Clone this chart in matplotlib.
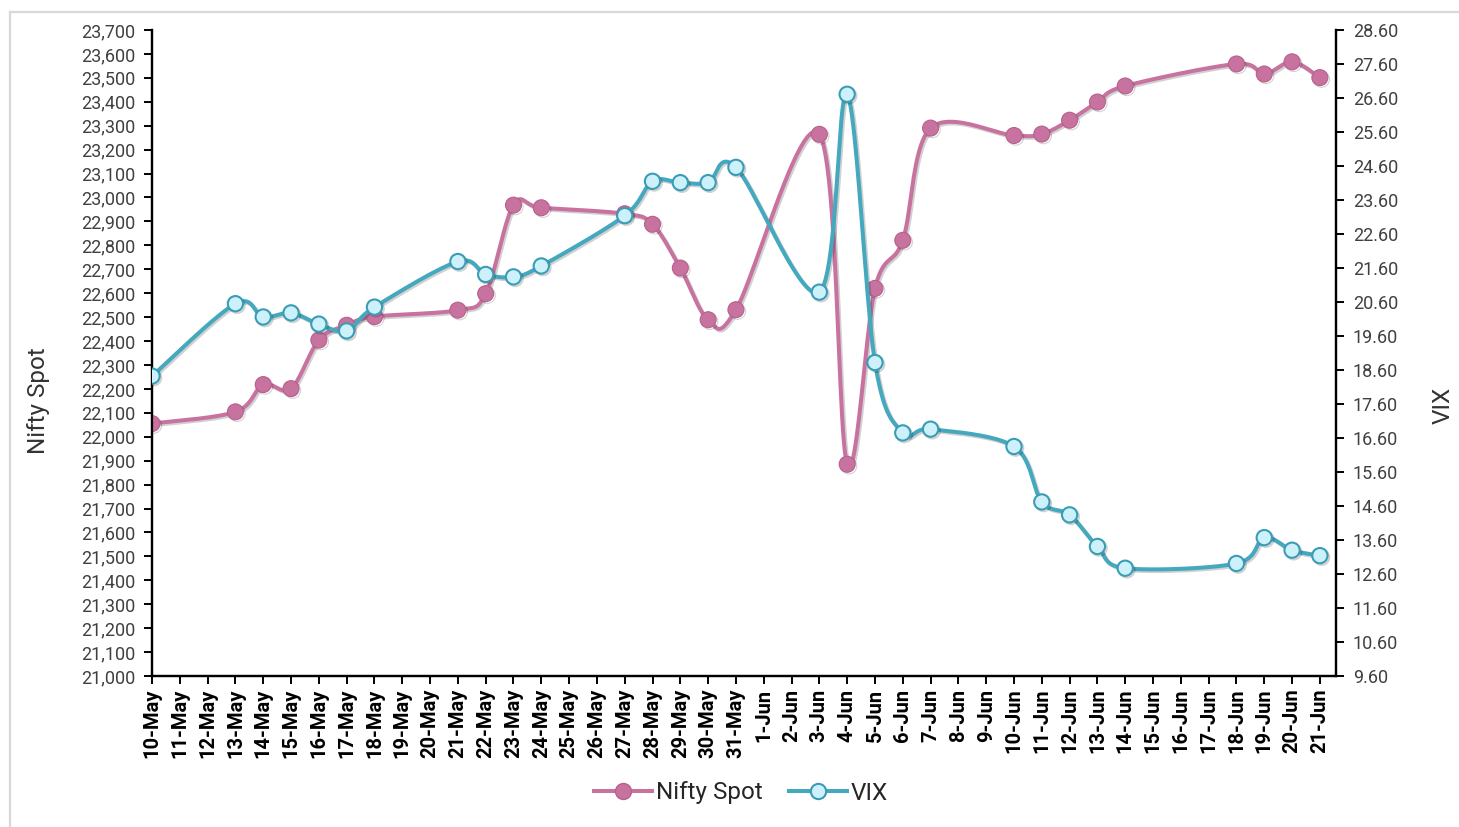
import numpy as np
import pandas as pd
import matplotlib
matplotlib.use("Agg")
import matplotlib.pyplot as plt
import matplotlib.dates as mdates
import matplotlib.patheffects as pe
from matplotlib.lines import Line2D
from matplotlib.ticker import FuncFormatter, MultipleLocator

plt.rcParams['font.family'] = ['Roboto', 'DejaVu Sans']

# trading days (2024)
dates = ['10-May', '13-May', '14-May', '15-May', '16-May', '17-May', '18-May',
         '21-May', '22-May', '23-May', '24-May', '27-May', '28-May', '29-May',
         '30-May', '31-May', '3-Jun', '4-Jun', '5-Jun', '6-Jun', '7-Jun',
         '10-Jun', '11-Jun', '12-Jun', '13-Jun', '14-Jun', '18-Jun', '19-Jun',
         '20-Jun', '21-Jun']
nifty = [22055, 22104, 22218, 22201, 22404, 22466, 22502,
         22529, 22598, 22968, 22957, 22932, 22888, 22705,
         22489, 22531, 23264, 21885, 22620, 22821, 23290,
         23259, 23265, 23323, 23399, 23466, 23558, 23516,
         23567, 23501]
vix = [18.42, 20.55, 20.16, 20.28, 19.95, 19.75, 20.45,
       21.79, 21.41, 21.34, 21.66, 23.14, 24.15, 24.11,
       24.11, 24.56, 20.89, 26.71, 18.82, 16.75, 16.86,
       16.35, 14.72, 14.34, 13.41, 12.77, 12.91, 13.67,
       13.30, 13.14]

x = mdates.date2num(pd.to_datetime([d + '-2024' for d in dates], format='%d-%b-%Y'))


def smooth(x, y, n=24):
    # excel-like smoothed line: bezier segments with catmull-rom control points
    pts = np.column_stack([x, y]).astype(float)
    ext = np.vstack([pts[0], pts, pts[-1]])
    out = []
    t = np.linspace(0, 1, n)[:, None]
    for i in range(len(pts) - 1):
        p0, p1, p2, p3 = ext[i], ext[i + 1], ext[i + 2], ext[i + 3]
        c1 = p1 + (p2 - p0) / 6
        c2 = p2 - (p3 - p1) / 6
        seg = (1 - t)**3 * p1 + 3 * (1 - t)**2 * t * c1 + 3 * (1 - t) * t**2 * c2 + t**3 * p2
        out.append(seg if i == 0 else seg[1:])
    out = np.vstack(out)
    return out[:, 0], out[:, 1]


pink = '#C8729F'
pink_edge = '#B5618D'
teal = '#44A8BF'
teal_fill = '#CDF1FB'
teal_edge = '#3A9CB5'

shadow = [pe.SimpleLineShadow(offset=(1.2, -1.2), shadow_color='#000000', alpha=0.18),
          pe.Normal()]

fig = plt.figure(figsize=(14.59, 8.27), dpi=100)
ax = fig.add_axes([152 / 1459, 1 - 676 / 827, (1336 - 152) / 1459, (676 - 30) / 827])
ax2 = ax.twinx()

sx, sy = smooth(x, nifty)
ax.plot(sx, sy, color=pink, lw=2.9, solid_capstyle='round', path_effects=shadow, zorder=3)
ax.plot(x, nifty, ls='none', marker='o', ms=11.5, mfc=pink, mec=pink_edge, mew=0.8,
        path_effects=shadow, zorder=4)

vx, vy = smooth(x, vix)
ax2.plot(vx, vy, color=teal, lw=2.9, solid_capstyle='round', path_effects=shadow, zorder=3)
ax2.plot(x, vix, ls='none', marker='o', ms=11, mfc=teal_fill, mec=teal_edge, mew=1.5,
         path_effects=shadow, zorder=4)

start = x[0]
ax.set_xlim(start, x[-1] + 0.58)
ax.set_ylim(21000, 23700)
ax2.set_ylim(9.6, 28.6)
ax.yaxis.set_major_locator(MultipleLocator(100))
ax2.set_yticks(np.arange(9.6, 28.61, 1.0))
ax.yaxis.set_major_formatter(FuncFormatter(lambda v, p: f'{v:,.0f}'))
ax2.yaxis.set_major_formatter(FuncFormatter(lambda v, p: f'{v:.2f}'))

ax.set_xticks(np.arange(start, x[-1] + 0.5, 1))
ax.xaxis.set_major_formatter(FuncFormatter(
    lambda v, p: f"{mdates.num2date(v).day}-{mdates.num2date(v).strftime('%b')}"))

for a in (ax, ax2):
    a.spines['top'].set_visible(False)
    for s in a.spines.values():
        s.set_linewidth(1.6)
        s.set_color('black')

ax.tick_params(axis='x', direction='out', length=6, width=1.4, pad=3,
               labelrotation=90, labelsize=14.5, labelcolor='black')
for lab in ax.get_xticklabels():
    lab.set_fontweight('bold')
ax.tick_params(axis='y', direction='out', length=6, width=1.4, pad=6,
               labelsize=13, labelcolor='#404040')
ax2.tick_params(axis='y', direction='out', length=6, width=1.4, pad=6,
                labelsize=13, labelcolor='#404040')

fig.text(38 / 1459, 1 - 401 / 827, 'Nifty Spot', rotation=90, ha='center', va='center',
         fontsize=17.5, color='#333333')
fig.text(1443 / 1459, 1 - 405 / 827, 'VIX', rotation=90, ha='center', va='center',
         fontsize=17.5, color='#333333')

handles = [Line2D([], [], color=pink, lw=2.9, marker='o', ms=11.5, mfc=pink, mec=pink_edge),
           Line2D([], [], color=teal, lw=2.9, marker='o', ms=11, mfc=teal_fill, mec=teal_edge,
                  mew=1.5)]
fig.legend(handles, ['Nifty Spot', 'VIX'], loc='center', bbox_to_anchor=(741 / 1459, 1 - 793 / 827),
           ncol=2, frameon=False, fontsize=17.5, handlelength=2.4, handletextpad=0.15,
           columnspacing=1.1, labelcolor='#262626')

# light outer border of the chart area
fig.add_artist(Line2D([10 / 1459, 1], [1 - 12 / 827, 1 - 12 / 827], color='#D9D9D9', lw=1.6))
fig.add_artist(Line2D([10 / 1459, 10 / 1459], [0, 1 - 12 / 827], color='#D9D9D9', lw=1.6))

fig.savefig('out.png', dpi=100)
